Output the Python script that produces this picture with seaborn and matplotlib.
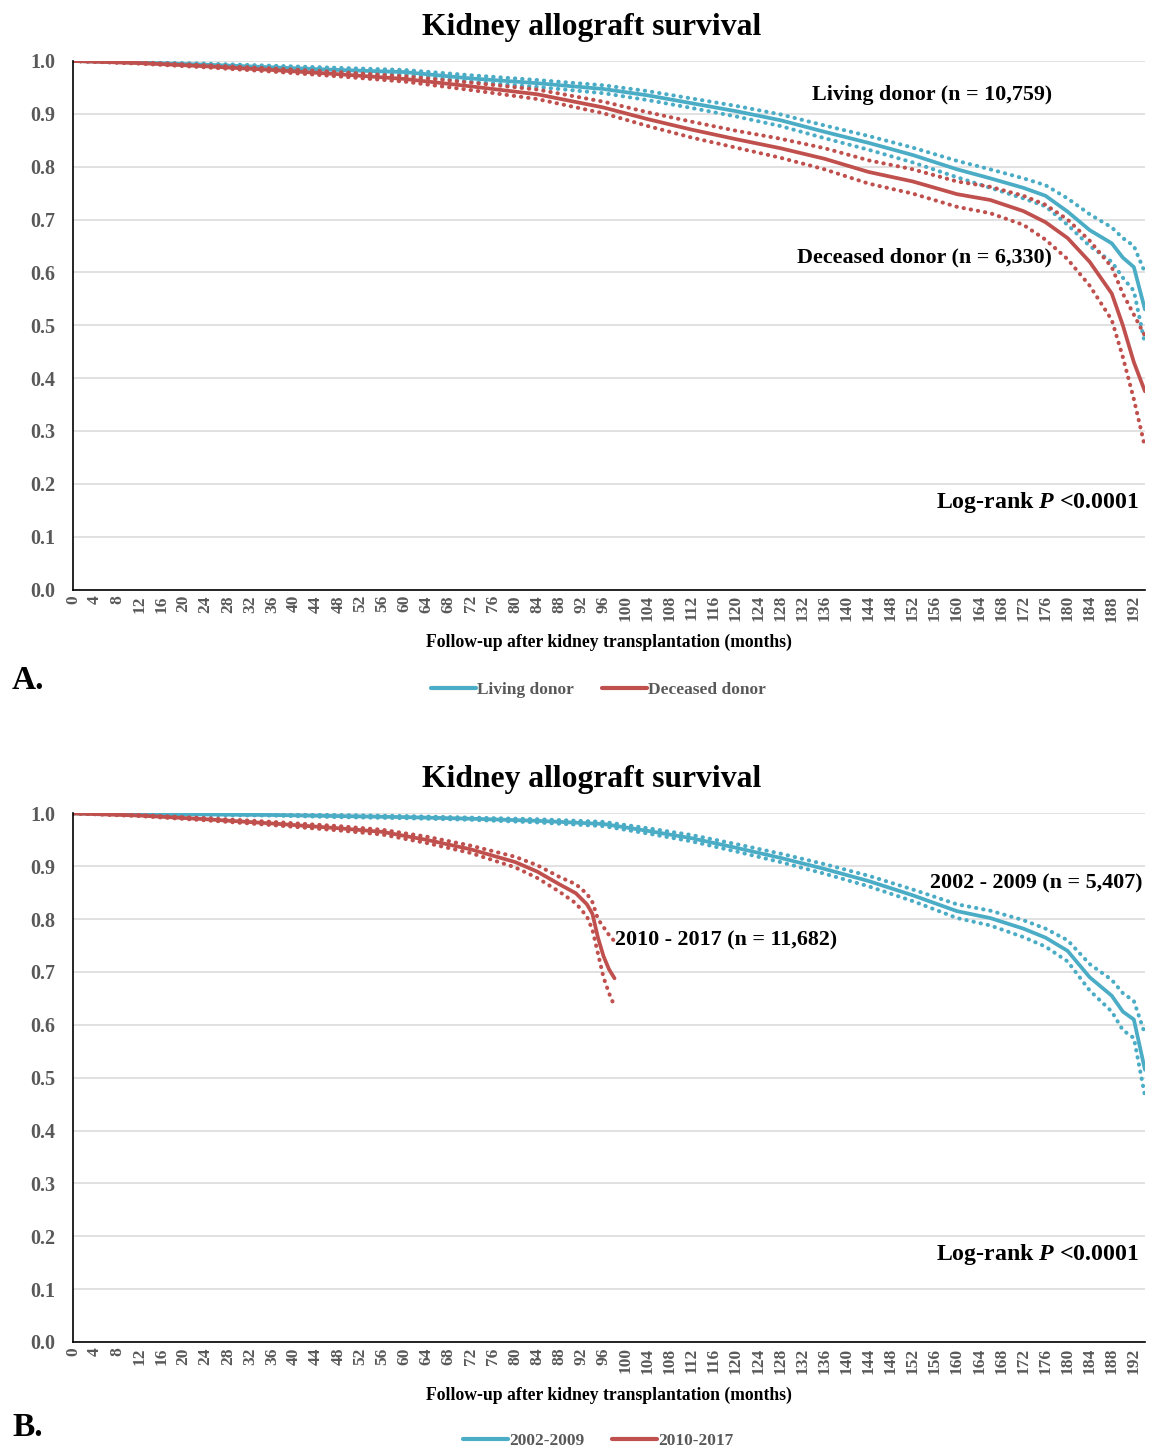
import numpy as np
import pandas as pd
import seaborn as sns
import matplotlib.pyplot as plt
from matplotlib.lines import Line2D

months = [0, 12, 24, 36, 48, 60, 72, 84, 96, 104, 112, 120, 128, 136, 144,
          152, 160, 166, 172, 176, 180, 184, 188, 190, 192, 194]

# panel A - living donor
living = [1.0, 0.997, 0.993, 0.988, 0.983, 0.979, 0.967, 0.958, 0.947, 0.935, 0.920,
          0.905, 0.888, 0.866, 0.845, 0.822, 0.795, 0.778, 0.760, 0.745, 0.715,
          0.680, 0.655, 0.628, 0.610, 0.530]
living_hi = [1.0, 0.998, 0.995, 0.991, 0.987, 0.983, 0.973, 0.964, 0.954, 0.943, 0.929,
             0.915, 0.899, 0.878, 0.858, 0.836, 0.811, 0.795, 0.778, 0.765, 0.740,
             0.710, 0.685, 0.665, 0.650, 0.600]
living_lo = [1.0, 0.996, 0.991, 0.985, 0.979, 0.974, 0.961, 0.951, 0.939, 0.926, 0.911,
             0.895, 0.877, 0.854, 0.832, 0.808, 0.780, 0.760, 0.740, 0.725, 0.690,
             0.650, 0.620, 0.590, 0.565, 0.465]

# panel A - deceased donor
deceased = [1.0, 0.996, 0.990, 0.983, 0.975, 0.966, 0.952, 0.937, 0.912, 0.890, 0.870,
            0.852, 0.835, 0.815, 0.790, 0.772, 0.748, 0.737, 0.716, 0.695, 0.665,
            0.620, 0.560, 0.500, 0.430, 0.375]
deceased_hi = [1.0, 0.997, 0.992, 0.986, 0.979, 0.971, 0.959, 0.946, 0.923, 0.903, 0.885,
               0.868, 0.853, 0.835, 0.812, 0.795, 0.772, 0.762, 0.745, 0.728, 0.700,
               0.660, 0.610, 0.560, 0.520, 0.480]
deceased_lo = [1.0, 0.995, 0.988, 0.980, 0.971, 0.961, 0.945, 0.928, 0.901, 0.877, 0.855,
               0.836, 0.817, 0.795, 0.768, 0.749, 0.724, 0.712, 0.690, 0.662, 0.625,
               0.575, 0.510, 0.440, 0.360, 0.270]

# panel B - 2002-2009
era1 = [1.0, 0.999, 0.998, 0.997, 0.995, 0.993, 0.990, 0.986, 0.980, 0.967, 0.953,
        0.935, 0.916, 0.895, 0.872, 0.845, 0.815, 0.802, 0.782, 0.765, 0.740,
        0.690, 0.655, 0.625, 0.610, 0.515]
era1_hi = [1.0, 0.999, 0.999, 0.998, 0.997, 0.995, 0.992, 0.989, 0.984, 0.972, 0.959,
           0.942, 0.924, 0.904, 0.882, 0.856, 0.828, 0.816, 0.798, 0.782, 0.760,
           0.715, 0.685, 0.660, 0.645, 0.583]
era1_lo = [1.0, 0.998, 0.997, 0.996, 0.993, 0.991, 0.988, 0.983, 0.976, 0.962, 0.947,
           0.928, 0.908, 0.886, 0.862, 0.834, 0.802, 0.788, 0.766, 0.748, 0.720,
           0.665, 0.625, 0.590, 0.575, 0.466]

# panel B - 2010-2017 (shorter follow-up)
months2 = [0, 12, 24, 36, 48, 56, 64, 72, 80, 84, 88, 91, 93, 94, 95, 96, 97, 98]
era2 = [1.0, 0.996, 0.989, 0.981, 0.972, 0.965, 0.950, 0.932, 0.908, 0.890, 0.866,
        0.849, 0.828, 0.810, 0.765, 0.730, 0.705, 0.688]
era2_hi = [1.0, 0.997, 0.991, 0.984, 0.976, 0.969, 0.956, 0.939, 0.918, 0.902, 0.880,
           0.866, 0.848, 0.832, 0.800, 0.785, 0.770, 0.758]
era2_lo = [1.0, 0.995, 0.987, 0.978, 0.968, 0.960, 0.944, 0.925, 0.898, 0.878, 0.852,
           0.830, 0.805, 0.780, 0.735, 0.690, 0.660, 0.635]

BLUE = "#4BACC6"
RED = "#C0504D"
GREY = "#595959"

sns.set_style("white")
plt.rcParams["font.family"] = ["Liberation Serif", "DejaVu Serif"]
plt.rcParams["text.color"] = "black"
plt.rcParams["axes.labelcolor"] = "black"
plt.rcParams["mathtext.fontset"] = "custom"
plt.rcParams["mathtext.it"] = "Liberation Serif:italic:bold"
plt.rcParams["mathtext.rm"] = "Liberation Serif:bold"

fig = plt.figure(figsize=(11.6, 14.52), dpi=100)
axA = fig.add_axes([0.063, 0.594, 0.924, 0.364])
axB = fig.add_axes([0.063, 0.0758, 0.924, 0.364])

dot = (0, (0.1, 1.7))


def draw_km(ax, x, mid, hi, lo, color):
    sns.lineplot(x=x, y=hi, ax=ax, color=color, lw=2.9, linestyle=dot,
                 dash_capstyle="round", estimator=None, sort=False)
    sns.lineplot(x=x, y=lo, ax=ax, color=color, lw=2.9, linestyle=dot,
                 dash_capstyle="round", estimator=None, sort=False)
    sns.lineplot(x=x, y=mid, ax=ax, color=color, lw=2.7, estimator=None, sort=False)


def style_axes(ax):
    ax.set_xlim(0, 194)
    ax.set_ylim(0, 1.0)
    ax.set_yticks(np.arange(0, 1.01, 0.1))
    ax.set_yticklabels([f"{v:.1f}" for v in np.arange(0, 1.01, 0.1)],
                       fontsize=14.5, fontweight="bold", color=GREY)
    ax.set_xticks(range(0, 193, 4))
    ax.set_xticklabels([str(m) for m in range(0, 193, 4)], rotation=90,
                       fontsize=12.5, fontweight="bold", color=GREY)
    ax.tick_params(axis="both", length=0)
    ax.tick_params(axis="y", pad=13)
    ax.tick_params(axis="x", pad=4)
    ax.yaxis.grid(True, color="#d9d9d9", lw=1.1)
    ax.set_axisbelow(True)
    for s in ["top", "right"]:
        ax.spines[s].set_visible(False)
    for s in ["left", "bottom"]:
        ax.spines[s].set_color("black")
        ax.spines[s].set_linewidth(1.2)
    ax.set_xlabel("Follow-up after kidney transplantation (months)",
                  fontsize=12.7, fontweight="bold", labelpad=9)
    ax.set_ylabel("")
    ax.set_title("Kidney allograft survival", fontsize=22.8, fontweight="bold",
                 pad=19, x=0.484)
    ax.text(0.995, 0.165, "Log-rank $P$ <0.0001", transform=ax.transAxes,
            ha="right", va="center", fontsize=17.2, fontweight="bold")


# panel A
draw_km(axA, months, living, living_hi, living_lo, BLUE)
draw_km(axA, months, deceased, deceased_hi, deceased_lo, RED)
style_axes(axA)
axA.text(0.913, 0.936, "Living donor (n = 10,759)", transform=axA.transAxes,
         ha="right", va="center", fontsize=15.8, fontweight="bold")
axA.text(0.913, 0.629, "Deceased donor (n = 6,330)", transform=axA.transAxes,
         ha="right", va="center", fontsize=15.8, fontweight="bold")
axA.legend(handles=[Line2D([], [], color=BLUE, lw=3), Line2D([], [], color=RED, lw=3)],
           labels=["Living donor", "Deceased donor"], loc="center",
           bbox_to_anchor=(0.49, -0.19), ncol=2, frameon=False, handlelength=2.6,
           handletextpad=0.05, columnspacing=1.6,
           prop={"size": 12.5, "weight": "bold"}, labelcolor=GREY)

# panel B
draw_km(axB, months, era1, era1_hi, era1_lo, BLUE)
draw_km(axB, months2, era2, era2_hi, era2_lo, RED)
style_axes(axB)
axB.text(0.998, 0.868, "2002 - 2009 (n = 5,407)", transform=axB.transAxes,
         ha="right", va="center", fontsize=15.8, fontweight="bold")
axB.text(0.506, 0.76, "2010 - 2017 (n = 11,682)", transform=axB.transAxes,
         ha="left", va="center", fontsize=15.8, fontweight="bold")
axB.legend(handles=[Line2D([], [], color=BLUE, lw=3), Line2D([], [], color=RED, lw=3)],
           labels=["2002-2009", "2010-2017"], loc="center",
           bbox_to_anchor=(0.49, -0.187), ncol=2, frameon=False, handlelength=2.6,
           handletextpad=0.05, columnspacing=1.6,
           prop={"size": 12.5, "weight": "bold"}, labelcolor=GREY)

fig.text(12 / 1160, 1 - 680 / 1452, "A.", fontsize=24, fontweight="bold", va="center")
fig.text(12 / 1160, 1 - 1428 / 1452, "B.", fontsize=24, fontweight="bold", va="center")

fig.savefig("out.png", dpi=100)
